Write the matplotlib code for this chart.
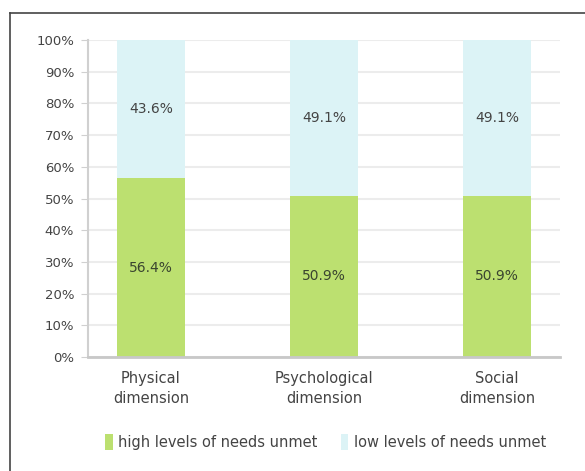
import numpy as np
import matplotlib
matplotlib.use('Agg')
import matplotlib.pyplot as plt

categories = ['Physical\ndimension', 'Psychological\ndimension', 'Social\ndimension']
high_unmet = [56.4, 50.9, 50.9]
low_unmet = [43.6, 49.1, 49.1]
yticks = [0, 10, 20, 30, 40, 50, 60, 70, 80, 90, 100]

plt.rcParams['font.family'] = ['DejaVu Sans']
txt = '#444444'
green = '#bce070'
blue = '#dcf3f6'

fig = plt.figure(figsize=(5.85, 4.71), dpi=100)
ax = fig.add_axes([88/585, 1-357/471, (560-88)/585, 317/471])

x = np.arange(len(categories))
ax.bar(x, high_unmet, width=0.39, color=green, zorder=2, label='high levels of needs unmet')
ax.bar(x, low_unmet, width=0.39, bottom=high_unmet, color=blue, zorder=2,
       label='low levels of needs unmet')

for i in range(len(categories)):
    ax.text(x[i], high_unmet[i]/2, f'{high_unmet[i]}%', ha='center', va='center',
            fontsize=10, color='#3a4530', zorder=3)
    ax.text(x[i], high_unmet[i] + low_unmet[i]/2, f'{low_unmet[i]}%', ha='center', va='center',
            fontsize=10, color=txt, zorder=3)

ax.set_xlim(-0.364, 2.364)
ax.set_ylim(0, 100)
ax.set_yticks(yticks)
ax.set_yticklabels([f'{v}%' for v in yticks], fontsize=9.5, color=txt)
ax.yaxis.grid(True, color='#ececec', linewidth=1.5, zorder=0)
ax.set_xticks(x)
ax.set_xticklabels(categories, fontsize=10.5, color=txt, linespacing=1.45)
ax.tick_params(axis='x', length=0, pad=10)
ax.tick_params(axis='y', length=5, color='#d0d0d0', pad=5)
for s in ['top', 'right']:
    ax.spines[s].set_visible(False)
ax.spines['left'].set_color('#d0d0d0')
ax.spines['left'].set_linewidth(1.5)
ax.spines['bottom'].set_color('#c8c8c8')
ax.spines['bottom'].set_linewidth(2)

leg = fig.legend(loc='center', bbox_to_anchor=(0.557, 1-442/471), ncol=2, frameon=False,
                 fontsize=10.5, handlelength=0.5, handleheight=1.3, columnspacing=1.6,
                 handletextpad=0.4)
for t in leg.get_texts():
    t.set_color(txt)

# outer frame (left and top edges)
fig.add_artist(plt.Line2D([10/585, 10/585], [0, 1-13/471], color='#444444', lw=1.2,
                          transform=fig.transFigure))
fig.add_artist(plt.Line2D([10/585, 1], [1-13/471, 1-13/471], color='#444444', lw=1.2,
                          transform=fig.transFigure))

fig.savefig('out.png', dpi=100)
